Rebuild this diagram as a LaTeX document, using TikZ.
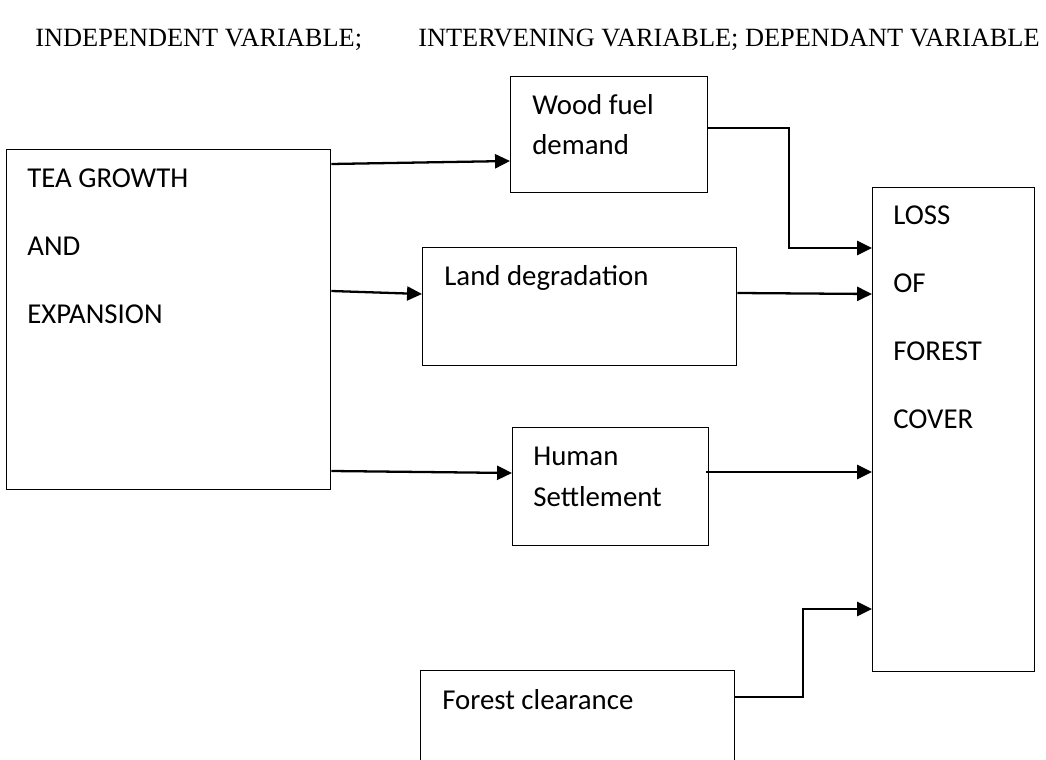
\documentclass[tikz,border=0pt]{standalone}
\usepackage{fontspec}
\setmainfont{Carlito}
\newfontfamily\titlefont{Liberation Serif}
\usetikzlibrary{calc}
\usetikzlibrary{arrows.meta}

\tikzset{
  box/.style={draw=black, line width=0.8pt, inner sep=0pt, anchor=north west},
  txt/.style={anchor=base west, inner sep=0pt, font=\fontsize{16.4}{20}\selectfont},
  link/.style={black, line width=1.3pt, -{Triangle[length=8.5pt,width=8pt]}},
}

\begin{document}
\begin{tikzpicture}[x=0.02cm, y=-0.02cm]
\clip (0,0) rectangle (1046,760);
\fill[white] (0,0) rectangle (1046,760);
% headings
\node[anchor=base west, inner sep=0pt, font=\titlefont\fontsize{15}{18}\selectfont] (indep) at (35,47) {INDEPENDENT VARIABLE;};
\node[anchor=base east, inner sep=0pt, font=\titlefont\fontsize{15}{18}\selectfont] (interv) at (1040,47) {INTERVENING VARIABLE; DEPENDANT VARIABLE};
% boxes
\node[box, minimum width=6.48cm, minimum height=6.80cm] (tea) at (6,149) {};
\node[box, minimum width=3.94cm, minimum height=2.32cm] (wood) at (510,76) {};
\node[box, minimum width=6.28cm, minimum height=2.36cm] (land) at (422,247) {};
\node[box, minimum width=3.92cm, minimum height=2.36cm] (human) at (512,427) {};
\node[box, minimum width=3.24cm, minimum height=9.68cm] (loss) at (872,187) {};
\node[box, minimum width=6.28cm, minimum height=2.40cm] (clear) at (420,670) {};
% texts
\foreach \t [count=\i from 0] in {TEA GROWTH,AND,EXPANSION}
  \node[txt] (tea-\i) at (27,{188+68*\i}) {\t};
\foreach \t [count=\i from 0] in {LOSS,OF,FOREST,COVER}
  \node[txt] (loss-\i) at (893,{225+67.7*\i}) {\t};
\node[txt] (wood-0) at (532,115) {Wood fuel};
\node[txt] (wood-1) at (532,155) {demand};
\node[txt] (land-0) at (444,286) {Land degradation};
\node[txt] (human-0) at (533,466) {Human};
\node[txt] (human-1) at (533,507) {Settlement};
\node[txt] (clear-0) at (442,709) {Forest clearance};
% links
\draw[link] ($(tea.north east)+(0,15)$) -- ($(wood.north west)+(0,85)$);
\draw[link] ($(tea.north east)+(0,142)$) -- ($(land.north west)+(0,47)$);
\draw[link] ($(tea.north east)+(0,322)$) -- ($(human.north west)+(0,46)$);
\draw[link] ($(wood.north east)+(0,52)$) -| ($(loss.north west)+(-83,61)$) -- ($(loss.north west)+(0,61)$);
\draw[link] ($(land.north east)+(0,46)$) -- ($(loss.north west)+(0,107)$);
\draw[link] ($(human.north east)+(-3,45)$) -- ($(loss.north west)+(0,285)$);
\draw[link] ($(clear.north east)+(0,27)$) -| ($(loss.north west)+(-69,422)$) -- ($(loss.north west)+(0,422)$);
\end{tikzpicture}
\end{document}
